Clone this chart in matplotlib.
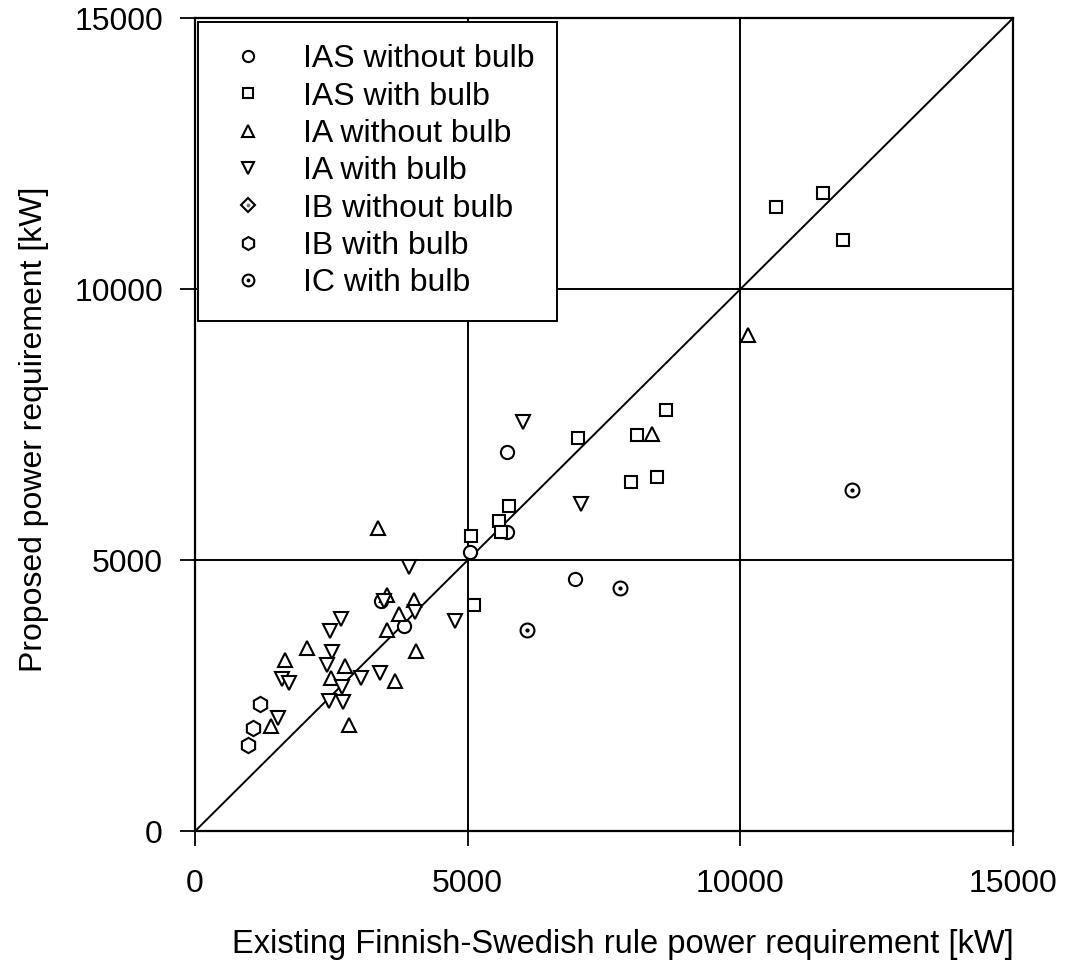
import matplotlib
matplotlib.use("Agg")
import matplotlib.pyplot as plt
from matplotlib.legend_handler import HandlerTuple

plt.rcParams['font.family'] = ['Liberation Sans', 'DejaVu Sans']

# values (kW)
ias_nobulb_x = [3420, 3840, 5050, 5730, 5720, 6970]
ias_nobulb_y = [4250, 3780, 5150, 6990, 5530, 4660]

ias_bulb_x = [5060, 5580, 5610, 5760, 7030, 8100, 8630, 7990, 8470, 5120, 10650, 11520, 11890]
ias_bulb_y = [5440, 5730, 5520, 6010, 7260, 7320, 7780, 6440, 6530, 4170, 11510, 11770, 10900]

ia_nobulb_x = [3350, 3530, 4020, 3750, 3530, 4060, 2050, 1650, 2750, 2500, 3660, 1400, 2830, 8390, 10140]
ia_nobulb_y = [5600, 4360, 4260, 4000, 3720, 3320, 3380, 3160, 3040, 2820, 2780, 1940, 1960, 7330, 9160]

ia_bulb_x = [3920, 3470, 4030, 4770, 2680, 2470, 2510, 2430, 1600, 1720, 3050, 3400, 2690, 2450, 2720, 1520, 6010, 7080]
ia_bulb_y = [4880, 4240, 4050, 3880, 3910, 3700, 3300, 3060, 2810, 2740, 2820, 2920, 2670, 2400, 2390, 2090, 7550, 6030]

ib_nobulb_x = []
ib_nobulb_y = []

ib_bulb_x = [1190, 1060, 970]
ib_bulb_y = [2350, 1900, 1600]

ic_bulb_x = [6090, 7800, 12040]
ic_bulb_y = [3720, 4490, 6290]

ticks = [0, 5000, 10000, 15000]
labels = ['IAS without bulb', 'IAS with bulb', 'IA without bulb', 'IA with bulb',
          'IB without bulb', 'IB with bulb', 'IC with bulb']

fig = plt.figure(figsize=(10.77, 9.61), dpi=100)
ax = fig.add_axes([0.181, 0.135, 0.7595, 0.846])

# grid + 1:1 line
for t in ticks[1:3]:
    ax.axvline(t, color='k', lw=1.4, zorder=1)
    ax.axhline(t, color='k', lw=1.4, zorder=1)
ax.plot([0, 15000], [0, 15000], color='k', lw=1.4, zorder=1)

kw = dict(ls='none', mfc='white', mec='k', mew=1.5, zorder=3)
h1, = ax.plot(ias_nobulb_x, ias_nobulb_y, marker='o', ms=9.5, **kw)
h2, = ax.plot(ias_bulb_x, ias_bulb_y, marker='s', ms=8.5, **kw)
h3, = ax.plot(ia_nobulb_x, ia_nobulb_y, marker='^', ms=9.5, **kw)
h4, = ax.plot(ia_bulb_x, ia_bulb_y, marker='v', ms=9.5, **kw)
h5, = ax.plot(ib_nobulb_x, ib_nobulb_y, marker='D', ms=8, **kw)
h5d, = ax.plot(ib_nobulb_x, ib_nobulb_y, marker='.', ms=4, ls='none', color='0.45', zorder=4)
h6, = ax.plot(ib_bulb_x, ib_bulb_y, marker='h', ms=11, **kw)
h7, = ax.plot(ic_bulb_x, ic_bulb_y, marker='o', ms=10, **kw)
h7d, = ax.plot(ic_bulb_x, ic_bulb_y, marker='.', ms=4, ls='none', color='k', zorder=4)

ax.set_xlim(0, 15000)
ax.set_ylim(0, 15000)
ax.set_xticks(ticks)
ax.set_yticks(ticks)
ax.tick_params(direction='out', length=11, width=1.3, labelsize=23)
ax.tick_params(axis='x', pad=16)
ax.tick_params(axis='y', pad=12)
for s in ax.spines.values():
    s.set_linewidth(1.6)

ax.set_xlabel('Existing Finnish-Swedish rule power requirement [kW]', fontsize=23.5)
ax.set_ylabel('Proposed power requirement [kW]', fontsize=23)
ax.xaxis.set_label_coords(0.523, -0.12)
ax.yaxis.set_label_coords(-0.178, 0.495)

leg = ax.legend([h1, h2, h3, h4, (h5, h5d), h6, (h7, h7d)], labels,
                handler_map={tuple: HandlerTuple(ndivide=1, pad=0)},
                loc='upper left', bbox_to_anchor=(0.004, 0.9955), borderaxespad=0,
                fontsize=23, markerscale=0.85, handlelength=1.7, handletextpad=0.88,
                borderpad=0.7, labelspacing=0.23, fancybox=False, framealpha=1,
                edgecolor='k')
leg.get_frame().set_linewidth(1.4)
leg.set_zorder(5)

plt.savefig('out.png', dpi=100)
plt.close(fig)
